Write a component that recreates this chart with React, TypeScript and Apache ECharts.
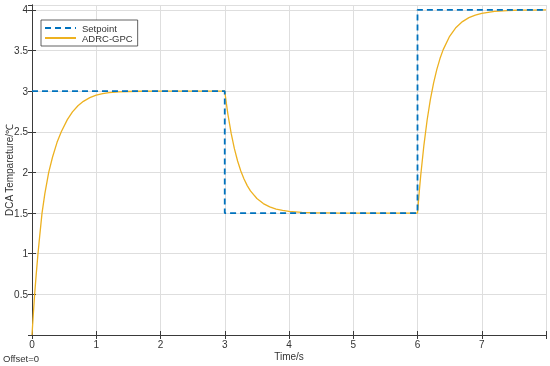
import React, { useEffect, useRef } from "react";
import * as echarts from "echarts";

const setpointX = [0, 3, 3, 6, 6, 8];
const setpointY = [3, 3, 1.5, 1.5, 4, 4];

const responseX = [
  0, 0.02, 0.041, 0.065, 0.093, 0.12, 0.156, 0.2, 0.26, 0.32, 0.39, 0.456, 0.55, 0.63, 0.715, 0.8, 0.9, 1.0, 1.1, 1.2, 1.35, 1.5, 1.7, 2.0, 3.0,
  3.025, 3.05, 3.1, 3.15, 3.2, 3.25, 3.3, 3.35, 3.4, 3.5, 3.6, 3.7, 3.8, 3.9, 4.0, 4.2, 4.4, 4.6, 4.8, 5.0, 6.0,
  6.025, 6.05, 6.1, 6.15, 6.2, 6.25, 6.3, 6.35, 6.4, 6.5, 6.6, 6.7, 6.8, 6.9, 7.0, 7.2, 7.4, 7.6, 7.8, 8.0,
];
const responseY = [
  0, 0.25, 0.5, 0.74, 1.0, 1.22, 1.5, 1.74, 2.0, 2.19, 2.37, 2.5, 2.65, 2.745, 2.82, 2.875, 2.92, 2.952, 2.97, 2.982, 2.991, 2.996, 2.999, 3.0, 3.0,
  2.849, 2.712, 2.48, 2.292, 2.141, 2.018, 1.919, 1.838, 1.773, 1.679, 1.617, 1.576, 1.55, 1.533, 1.521, 1.509, 1.504, 1.502, 1.5005, 1.5, 1.5,
  1.742, 1.962, 2.337, 2.645, 2.895, 3.099, 3.265, 3.401, 3.511, 3.675, 3.784, 3.856, 3.904, 3.936, 3.958, 3.981, 3.992, 3.996, 3.998, 3.999,
];

const seriesNames = ["Setpoint", "ADRC-GPC"];
const xAxisName = "Time/s";
const yAxisName = "DCA Tempareture/℃";
const footnote = "Offset=0";

const FONT = "'Liberation Sans', Arial, sans-serif";
const TEXT = "#333";
const FRAME = "#3a3a3a";
const GRIDC = "#dedede";

export default function App() {
  const ref = useRef<HTMLDivElement>(null);
  useEffect(() => {
    if (!ref.current) return;
    const chart = echarts.init(ref.current, undefined, { renderer: "svg" });
    const spData = setpointX.map((x, i) => [x, setpointY[i]]);
    const rData = responseX.map((x, i) => [x, responseY[i]]);
    const hiddenAxisBase = {
      axisLabel: { show: false },
      axisLine: { show: true, lineStyle: { color: FRAME, width: 1 } },
      splitLine: { show: false },
    };
    chart.setOption({
      animation: false,
      textStyle: { fontFamily: FONT },
      grid: { left: 32, right: 4, top: 5, bottom: 31, containLabel: false, outerBoundsMode: "none" },
      legend: {
        orient: "vertical",
        left: 41,
        top: 20,
        data: seriesNames,
        itemWidth: 31,
        itemHeight: 6,
        itemGap: 0,
        padding: [3, 5, 3, 3],
        borderColor: FRAME,
        borderWidth: 0.8,
        borderRadius: 0,
        backgroundColor: "#fff",
        itemStyle: { opacity: 0 },
        textStyle: { fontSize: 9.5, lineHeight: 10, color: TEXT, fontFamily: FONT, padding: [0, 0, 0, 1] },
      },
      xAxis: [
        {
          type: "value",
          min: 0,
          max: 8,
          interval: 1,
          name: xAxisName,
          nameLocation: "middle",
          nameGap: 16,
          nameMoveOverlap: false,
          nameTextStyle: { fontSize: 10, color: TEXT, fontFamily: FONT },
          axisLine: { show: true, onZero: false, lineStyle: { color: FRAME, width: 1 } },
          axisTick: { show: true, inside: true, length: 4, lineStyle: { color: FRAME } },
          axisLabel: {
            fontSize: 10,
            color: TEXT,
            margin: 4,
            fontFamily: FONT,
            formatter: (v: number) => (v >= 8 ? "" : String(v)),
          },
          splitLine: { show: true, lineStyle: { color: GRIDC, width: 1 } },
        },
        {
          type: "value",
          position: "top",
          min: 0,
          max: 8,
          interval: 1,
          ...hiddenAxisBase,
          axisTick: { show: true, inside: true, length: 4, lineStyle: { color: FRAME } },
        },
      ],
      yAxis: [
        {
          type: "value",
          min: 0,
          max: 4.06,
          interval: 0.5,
          name: yAxisName,
          nameLocation: "middle",
          nameGap: 18,
          nameMoveOverlap: false,
          nameTextStyle: { fontSize: 10, color: TEXT, fontFamily: FONT, padding: [0, 0, 0, 0] },
          axisLine: { show: true, onZero: false, lineStyle: { color: FRAME, width: 1 } },
          axisTick: { show: true, inside: true, length: 4, lineStyle: { color: FRAME } },
          axisLabel: {
            fontSize: 10,
            color: TEXT,
            margin: 4,
            fontFamily: FONT,
            showMaxLabel: false,
            formatter: (v: number) => {
              if (v <= 0 || v > 4.001) return "";
              const r = Math.round(v * 2) / 2;
              return Math.abs(r - v) < 1e-6 ? String(r) : "";
            },
          },
          splitLine: { show: true, lineStyle: { color: GRIDC, width: 1 } },
        },
        {
          type: "value",
          position: "right",
          min: 0,
          max: 4.06,
          interval: 0.5,
          ...hiddenAxisBase,
          axisTick: { show: true, inside: true, length: 4, lineStyle: { color: FRAME } },
        },
      ],
      series: [
        {
          name: seriesNames[0],
          type: "line",
          data: spData,
          symbol: "none",
          lineStyle: { color: "#0072BD", width: 1.8, type: [6, 4] },
          itemStyle: { color: "#0072BD" },
          z: 3,
        },
        {
          name: seriesNames[1],
          type: "line",
          data: rData,
          symbol: "none",
          smooth: false,
          lineStyle: { color: "#EDB120", width: 1.3 },
          itemStyle: { color: "#EDB120" },
          z: 2,
        },
      ],
      graphic: [
        {
          type: "text",
          left: 3,
          top: 353,
          style: { text: footnote, fontSize: 9.5, fill: TEXT, fontFamily: FONT },
        },
      ],
    });
    return () => chart.dispose();
  }, []);
  return <div ref={ref} style={{ width: 550, height: 366, position: "fixed", left: 0, top: 0 }} />;
}
